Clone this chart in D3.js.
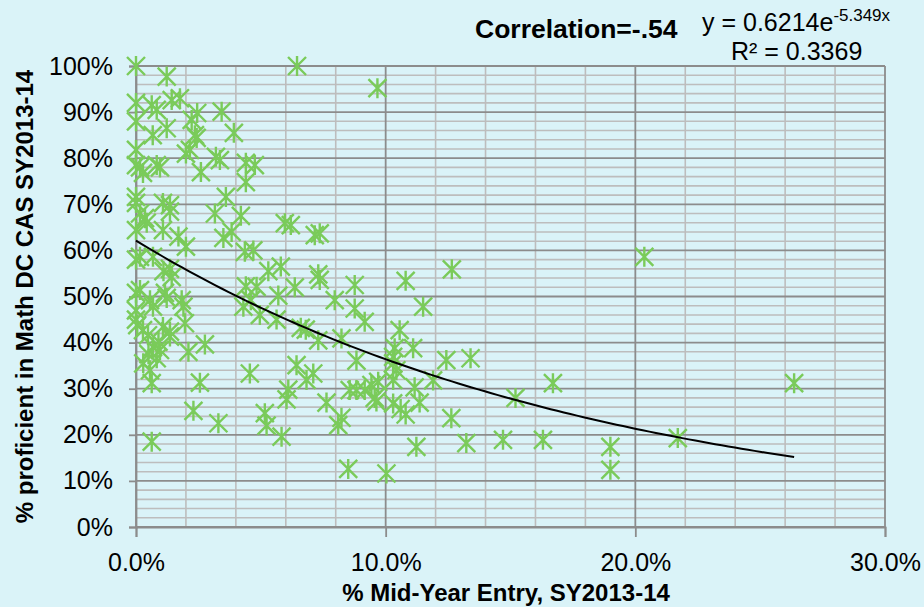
<!DOCTYPE html>
<html>
<head>
<meta charset="utf-8">
<script src="https://cdn.jsdelivr.net/npm/d3@7"></script>
<style>
  body { margin: 0; background: #daf3f8; }
  svg { display: block; font-family: "Liberation Sans", Arial, sans-serif; }
</style>
</head>
<body>
<div id="chart"></div>
<script>
// % mid-year entry (x) and % proficient in math (y), in percent
var midYearEntry = [
  0, 6.45, 1.23, 9.67, 0, 0.63, 0.83, 1.43, 1.76, 2.45,
  3.43, 0, 0.67, 1.23, 2.23, 2.36, 2.43, 3.92, 0, 2.0,
  2.16, 0, 0.16, 0.28, 0.83, 0.96, 3.2, 3.36, 2.6, 4.4,
  4.76, 4.4, 3.6, 0, 0, 1.08, 1.36, 0.16, 0.36, 0.43,
  0, 1.36, 1.08, 1.7, 2.0, 3.16, 4.2, 3.5, 3.83, 4.36,
  4.7, 0, 0.16, 0.68, 1.1, 1.36, 1.43, 5.3, 5.8, 5.96,
  6.2, 7.16, 7.36, 7.3, 7.36, 8.76, 10.8, 12.65, 20.36, 0,
  0.16, 0, 0.56, 0.68, 1.16, 1.23, 1.83, 1.9, 0, 0.05,
  0.28, 0.48, 1.08, 1.36, 1.36, 1.96, 0.68, 0.96, 2.1, 2.76,
  4.6, 4.4, 4.83, 4.3, 4.96, 5.63, 5.7, 6.36, 7.96, 8.76,
  9.16, 6.6, 6.8, 10.56, 7.3, 8.23, 8.83, 10.36, 10.3, 11.1,
  10.3, 10.43, 12.43, 13.4, 6.43, 7.1, 6.83, 0.29, 0.56, 0.63,
  0.83, 2.56, 4.56, 2.3, 3.3, 0.63, 5.16, 5.23, 5.83, 6.1,
  6.03, 7.63, 8.23, 8.1, 8.56, 8.83, 9.16, 9.43, 9.56, 10.3,
  10.3, 10.6, 10.8, 11.16, 11.36, 11.9, 12.63, 11.23, 8.5, 10.03,
  9.7, 9.63, 15.2, 16.7, 14.7, 16.3, 19.0, 19.0, 21.7, 26.36,
  13.23, 11.5, 0.5, 0.9
];
var pctProficient = [
  100, 100, 97.7, 95.2, 92, 91.5, 90.5, 92.6, 93, 89.8,
  90.1, 88, 85, 86.5, 88.3, 85, 84.4, 85.5, 81.8, 81,
  81.8, 78.5, 78, 76.8, 78.5, 78, 80.3, 79.6, 77, 79,
  78.5, 74.8, 71.6, 71.6, 70.3, 70.3, 69.8, 68, 67, 66,
  64.4, 68.4, 64.4, 63, 60.8, 68, 67.5, 62.7, 64, 59.7,
  60, 58, 58.6, 58.6, 55.5, 56, 54.2, 55.5, 56.5, 65.9,
  65.5, 63.3, 63.7, 54.8, 53.6, 52.5, 53.4, 55.9, 58.6, 50.8,
  51.4, 47, 49.2, 47.8, 50.8, 49.7, 49.2, 47.8, 45, 43.8,
  42.7, 41.6, 43.4, 42.4, 41.3, 44.2, 39, 38.4, 38, 39.6,
  49.2, 52.2, 52.1, 47.8, 46, 45, 50.2, 52, 49.2, 47.4,
  44.5, 43.2, 42.8, 42.7, 40.5, 40.9, 36.1, 38.8, 36.9, 38.8,
  35.5, 34, 36.2, 36.6, 35.1, 33.3, 31.9, 35.5, 34, 31.2,
  36.6, 31.3, 33.3, 25.2, 22.5, 18.5, 24.7, 22, 19.6, 29.8,
  27.7, 27, 23.7, 22.1, 29.7, 29.7, 29.7, 30.8, 28, 31.9,
  26.8, 25.6, 24.4, 30.3, 27, 31.8, 23.6, 17.4, 12.6, 11.6,
  31.5, 27.2, 28, 31.2, 18.9, 18.9, 17.4, 12.4, 19.3, 31.2,
  18.2, 47.8, 37.5, 40.2
];

var xTicks = [0, 0.1, 0.2, 0.3];
var yTicks = [0, 0.1, 0.2, 0.3, 0.4, 0.5, 0.6, 0.7, 0.8, 0.9, 1.0];

// exponential trendline y = a * e^(b x)
var trendA = 0.6214;
var trendB = -5.349;

var width = 924, height = 607;
var margin = { top: 66, right: 39, bottom: 80, left: 136 };

var svg = d3.select("#chart")
  .append("svg")
  .attr("width", width)
  .attr("height", height);

svg.append("rect")
  .attr("width", width)
  .attr("height", height)
  .attr("fill", "#daf3f8");

var x = d3.scaleLinear().domain([0, 0.3]).range([margin.left, width - margin.right]);
var y = d3.scaleLinear().domain([0, 1]).range([height - margin.bottom, margin.top]);

var data = midYearEntry.map(function (d, i) {
  return { x: d / 100, y: pctProficient[i] / 100 };
});

// minor gridlines every 2%
var minorX = d3.range(0.02, 0.3, 0.02).filter(function (d) { return Math.abs(d * 10 - Math.round(d * 10)) > 1e-6; });
var minorY = d3.range(0.02, 1, 0.02).filter(function (d) { return Math.abs(d * 10 - Math.round(d * 10)) > 1e-6; });

var grid = svg.append("g");
grid.selectAll(".mx").data(minorX).enter().append("line")
  .attr("x1", function (d) { return x(d); })
  .attr("x2", function (d) { return x(d); })
  .attr("y1", y(0)).attr("y2", y(1))
  .attr("stroke", "#bdbdbd").attr("stroke-width", 1.6);
grid.selectAll(".my").data(minorY).enter().append("line")
  .attr("y1", function (d) { return y(d); })
  .attr("y2", function (d) { return y(d); })
  .attr("x1", x(0)).attr("x2", x(0.3))
  .attr("stroke", "#bdbdbd").attr("stroke-width", 1.6);
grid.selectAll(".Mx").data(xTicks).enter().append("line")
  .attr("x1", function (d) { return x(d); })
  .attr("x2", function (d) { return x(d); })
  .attr("y1", y(0)).attr("y2", y(1))
  .attr("stroke", "#8c8c8c").attr("stroke-width", 1.8);
grid.selectAll(".My").data(yTicks).enter().append("line")
  .attr("y1", function (d) { return y(d); })
  .attr("y2", function (d) { return y(d); })
  .attr("x1", x(0)).attr("x2", x(0.3))
  .attr("stroke", "#8c8c8c").attr("stroke-width", 1.8);

// axes
var yAxis = svg.append("g")
  .attr("transform", "translate(" + x(0) + ",0)")
  .call(d3.axisLeft(y).tickValues(yTicks).tickFormat(d3.format(".0%")).tickSize(7).tickPadding(16));
var xAxis = svg.append("g")
  .attr("transform", "translate(0," + y(0) + ")")
  .call(d3.axisBottom(x).tickValues(xTicks).tickFormat(d3.format(".1%")).tickSize(10).tickPadding(16));

[xAxis, yAxis].forEach(function (ax) {
  ax.select(".domain").attr("stroke", "#8c8c8c").attr("stroke-width", 1.8);
  ax.selectAll(".tick line").attr("stroke", "#8c8c8c").attr("stroke-width", 1.8);
  ax.selectAll(".tick text")
    .attr("fill", "#000")
    .style("font-size", "25px")
    .style("font-family", "'Liberation Sans', Arial, sans-serif");
});

// markers: star (X plus vertical bar)
var s = 9;
var markers = svg.append("g")
  .attr("stroke", "#7acb5a")
  .attr("stroke-width", 2.4)
  .attr("fill", "none");
markers.selectAll("path").data(data).enter().append("path")
  .attr("d", function (d) {
    var cx = x(d.x), cy = y(d.y);
    return "M" + (cx - s) + "," + (cy - s) + "L" + (cx + s) + "," + (cy + s) +
      "M" + (cx - s) + "," + (cy + s) + "L" + (cx + s) + "," + (cy - s) +
      "M" + cx + "," + (cy - s - 1) + "L" + cx + "," + (cy + s + 1);
  });

// trendline
var maxX = d3.max(data, function (d) { return d.x; });
var trendPts = d3.range(0, 101).map(function (i) {
  var tx = maxX * i / 100;
  return [tx, trendA * Math.exp(trendB * tx)];
});
svg.append("path")
  .datum(trendPts)
  .attr("fill", "none")
  .attr("stroke", "#000")
  .attr("stroke-width", 2)
  .attr("d", d3.line()
    .x(function (d) { return x(d[0]); })
    .y(function (d) { return y(d[1]); }));

// titles
svg.append("text")
  .attr("transform", "translate(33," + ((y(0) + y(1)) / 2) + ") rotate(-90)")
  .attr("text-anchor", "middle")
  .style("font-size", "24px")
  .style("font-weight", "bold")
  .text("% proficient in Math DC CAS SY2013-14");

svg.append("text")
  .attr("x", 506)
  .attr("y", 601)
  .attr("text-anchor", "middle")
  .style("font-size", "24px")
  .style("font-weight", "bold")
  .text("% Mid-Year Entry, SY2013-14");

svg.append("text")
  .attr("x", 475)
  .attr("y", 38)
  .style("font-size", "26.5px")
  .style("font-weight", "bold")
  .text("Correlation=-.54");

var eq = svg.append("text")
  .attr("x", 702)
  .attr("y", 31)
  .style("font-size", "25px");
eq.append("tspan").text("y = 0.6214e");
eq.append("tspan")
  .attr("dy", -10)
  .style("font-size", "17px")
  .text("-5.349x");

svg.append("text")
  .attr("x", 731)
  .attr("y", 60)
  .style("font-size", "25px")
  .text("R\u00b2 = 0.3369");
</script>
</body>
</html>
